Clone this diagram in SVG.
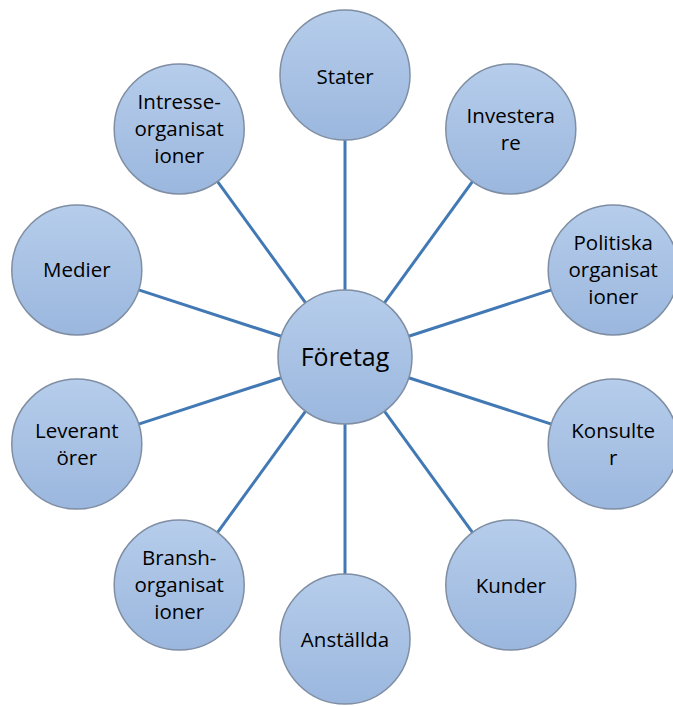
<svg xmlns="http://www.w3.org/2000/svg" width="673" height="706" viewBox="0 0 673 706">
<defs>
<linearGradient id="g" x1="0" y1="0" x2="0" y2="1">
<stop offset="0" stop-color="#b6cdeb"/>
<stop offset="1" stop-color="#9bb7de"/>
</linearGradient>
<style>
.n{fill:url(#g);stroke:#7f8ea3;stroke-width:1.5}
.t{font-family:"Open Sans","Liberation Sans",sans-serif;font-size:20.5px;fill:#000;text-anchor:middle}
.c{font-size:25px}
.e line{stroke:#4279b5;stroke-width:3}
</style>
</defs>
<rect width="673" height="706" fill="#fff"/>
<g class="e" id="connectors">
<line x1="345" y1="290" x2="345" y2="140"/>
<line x1="384.4" y1="302.8" x2="472.6" y2="181.4"/>
<line x1="408.7" y1="336.3" x2="551.4" y2="289.9"/>
<line x1="408.7" y1="377.7" x2="551.4" y2="424.1"/>
<line x1="384.4" y1="411.2" x2="472.6" y2="532.6"/>
<line x1="345" y1="424" x2="345" y2="574"/>
<line x1="305.6" y1="411.2" x2="217.4" y2="532.6"/>
<line x1="281.3" y1="377.7" x2="138.6" y2="424.1"/>
<line x1="281.3" y1="336.3" x2="138.6" y2="289.9"/>
<line x1="305.6" y1="302.8" x2="217.4" y2="181.4"/>
</g>
<g id="foretag"><circle class="n" cx="345" cy="357" r="67"/><text class="t c" x="345" y="366">Företag</text></g>
<g id="stater"><circle class="n" cx="345" cy="75" r="65"/><text class="t" x="345" y="84">Stater</text></g>
<g id="investerare"><circle class="n" cx="510.8" cy="128.9" r="65"/><text class="t" x="510.8" y="122.5">Investera</text><text class="t" x="510.8" y="149.5">re</text></g>
<g id="politiska"><circle class="n" cx="613.2" cy="269.9" r="65"/><text class="t" x="613.2" y="250">Politiska</text><text class="t" x="613.2" y="277">organisat</text><text class="t" x="613.2" y="304">ioner</text></g>
<g id="konsulter"><circle class="n" cx="613.2" cy="444.1" r="65"/><text class="t" x="613.2" y="437.6">Konsulte</text><text class="t" x="613.2" y="464.6">r</text></g>
<g id="kunder"><circle class="n" cx="510.8" cy="585.1" r="65"/><text class="t" x="510.8" y="592.5">Kunder</text></g>
<g id="anstallda"><circle class="n" cx="345" cy="639" r="65"/><text class="t" x="345" y="646.5">Anställda</text></g>
<g id="bransch"><circle class="n" cx="179.2" cy="585.1" r="65"/><text class="t" x="179.2" y="565">Bransh-</text><text class="t" x="179.2" y="592">organisat</text><text class="t" x="179.2" y="619">ioner</text></g>
<g id="leverantorer"><circle class="n" cx="76.8" cy="444.1" r="65"/><text class="t" x="76.8" y="437.6">Leverant</text><text class="t" x="76.8" y="464.6">örer</text></g>
<g id="medier"><circle class="n" cx="76.8" cy="269.9" r="65"/><text class="t" x="76.8" y="277.3">Medier</text></g>
<g id="intresse"><circle class="n" cx="179.2" cy="128.9" r="65"/><text class="t" x="179.2" y="109">Intresse-</text><text class="t" x="179.2" y="136">organisat</text><text class="t" x="179.2" y="163">ioner</text></g>
</svg>
